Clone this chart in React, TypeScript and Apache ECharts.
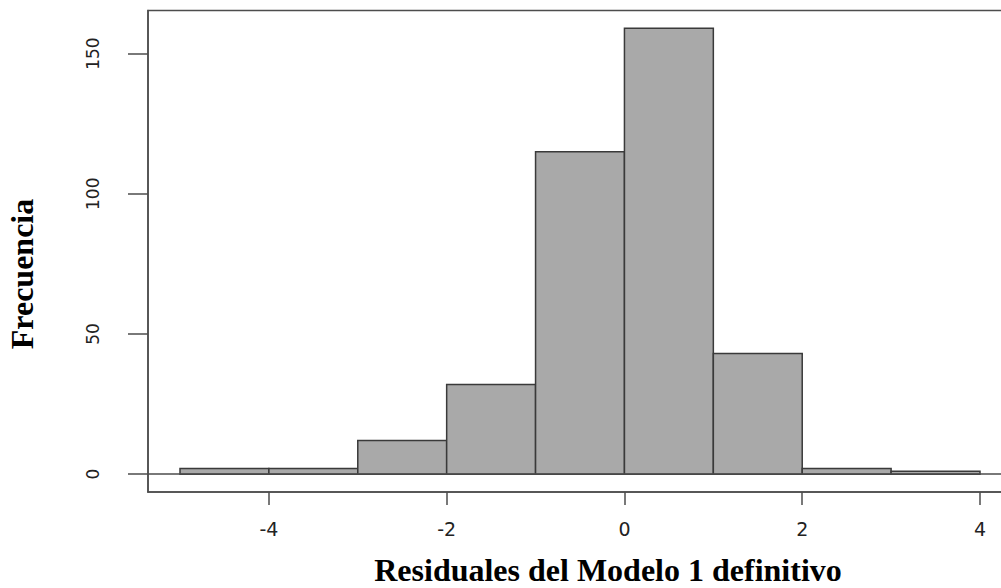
import React, { useEffect, useRef } from "react";
import * as echarts from "echarts";

// Histogram bins (edges) and frequencies
const binEdges = [-5, -4, -3, -2, -1, 0, 1, 2, 3, 4];
const counts = [2, 2, 12, 32, 115, 159, 43, 2, 1];

// Tick values
const xTicks = [-4, -2, 0, 2, 4];
const yTicks = [0, 50, 100, 150];

const xTitle = "Residuales del Modelo 1 definitivo";
const yTitle = "Frecuencia";

export default function App() {
  const ref = useRef<HTMLDivElement>(null);

  useEffect(() => {
    if (!ref.current) return;
    const chart = echarts.init(ref.current, null, { renderer: "svg" });

    const xMin = binEdges[0];
    const xMax = binEdges[binEdges.length - 1];
    const xPad = (xMax - xMin) * 0.04;
    const yMaxData = Math.max(...counts);
    const yPad = yMaxData * 0.04;

    const data = counts.map((c, i) => [binEdges[i], binEdges[i + 1], c]);

    const axisColor = "#4d4d4d";
    const labelFont = "DejaVu Sans, Liberation Sans, Arial, sans-serif";
    const titleFont = "Liberation Serif, Times New Roman, serif";

    chart.setOption({
      animation: false,
      backgroundColor: "#ffffff",
      grid: {
        left: 148,
        top: 10.5,
        width: 864,
        height: 481.5,
        show: true,
        containLabel: false,
        outerBoundsMode: "none",
        borderColor: axisColor,
        borderWidth: 1.5,
        backgroundColor: "transparent",
      },
      xAxis: {
        type: "value",
        min: xMin - xPad,
        max: xMax + xPad,
        axisLine: { show: true, onZero: false, lineStyle: { color: axisColor, width: 1.5 } },
        axisTick: {
          show: true,
          customValues: xTicks,
          length: 13,
          lineStyle: { color: axisColor, width: 1.5 },
        },
        axisLabel: {
          customValues: xTicks,
          margin: 27,
          fontSize: 19,
          fontFamily: labelFont,
          color: "#222",
        },
        splitLine: { show: false },
      },
      yAxis: {
        type: "value",
        min: -yPad,
        max: yMaxData + yPad,
        axisLine: { show: true, onZero: false, lineStyle: { color: axisColor, width: 1.5 } },
        axisTick: {
          show: true,
          customValues: yTicks,
          length: 20,
          lineStyle: { color: axisColor, width: 1.5 },
        },
        axisLabel: {
          customValues: yTicks,
          rotate: 90,
          margin: 47,
          fontSize: 17,
          fontFamily: labelFont,
          color: "#222",
        },
        splitLine: { show: false },
      },
      graphic: [
        {
          type: "text",
          x: 608,
          y: 570,
          style: {
            text: xTitle,
            font: `bold 32px ${titleFont}`,
            fill: "#000",
            textAlign: "center",
            textVerticalAlign: "middle",
          },
        },
        {
          type: "text",
          x: 22,
          y: 274,
          rotation: Math.PI / 2,
          style: {
            text: yTitle,
            font: `bold 32px ${titleFont}`,
            fill: "#000",
            textAlign: "center",
            textVerticalAlign: "middle",
          },
        },
      ],
      series: [
        {
          type: "custom",
          data,
          encode: { x: [0, 1], y: 2 },
          renderItem: (params: any, api: any) => {
            const p0 = api.coord([api.value(0), api.value(2)]);
            const p1 = api.coord([api.value(1), 0]);
            return {
              type: "rect",
              shape: { x: p0[0], y: p0[1], width: p1[0] - p0[0], height: p1[1] - p0[1] },
              style: { fill: "#a9a9a9", stroke: "#3a3a3a", lineWidth: 1.5 },
            };
          },
          markLine: {
            silent: true,
            symbol: "none",
            label: { show: false },
            lineStyle: { color: axisColor, type: "solid", width: 1.5 },
            data: [{ yAxis: 0 }],
          },
        },
      ],
    });

    return () => chart.dispose();
  }, []);

  return (
    <div
      ref={ref}
      style={{ position: "fixed", left: 0, top: 0, width: 1001, height: 588, background: "#fff" }}
    />
  );
}
